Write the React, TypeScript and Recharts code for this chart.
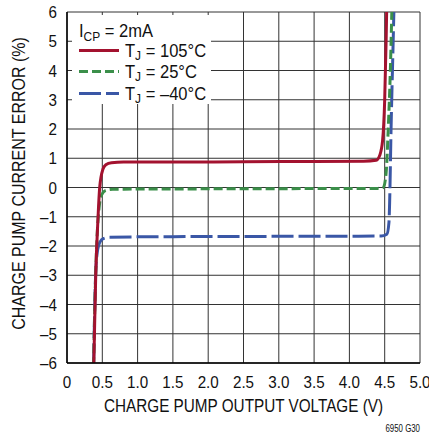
import React from "react";
import {
  LineChart,
  Line,
  XAxis,
  YAxis,
  CartesianGrid,
  Legend,
  Label,
} from "recharts";

// ---- data ----
const red105 = [
  { v: 0.37, e: -7 },
  { v: 0.38, e: -6 },
  { v: 0.407, e: -3 },
  { v: 0.44, e: -1 },
  { v: 0.463, e: 0 },
  { v: 0.51, e: 0.63 },
  { v: 0.55, e: 0.78 },
  { v: 0.63, e: 0.85 },
  { v: 0.8, e: 0.87 },
  { v: 1.5, e: 0.87 },
  { v: 2.5, e: 0.88 },
  { v: 3.5, e: 0.89 },
  { v: 4.2, e: 0.9 },
  { v: 4.38, e: 0.93 },
  { v: 4.43, e: 1.1 },
  { v: 4.47, e: 1.6 },
  { v: 4.5, e: 3 },
  { v: 4.52, e: 5 },
  { v: 4.535, e: 7 },
];

const green25 = [
  { v: 0.37, e: -7 },
  { v: 0.39, e: -4.5 },
  { v: 0.42, e: -2 },
  { v: 0.45, e: -0.8 },
  { v: 0.49, e: -0.25 },
  { v: 0.55, e: -0.1 },
  { v: 0.65, e: -0.06 },
  { v: 1.5, e: -0.05 },
  { v: 3.0, e: -0.04 },
  { v: 4.4, e: -0.03 },
  { v: 4.48, e: 0.0 },
  { v: 4.52, e: 0.5 },
  { v: 4.55, e: 2 },
  { v: 4.58, e: 4 },
  { v: 4.61, e: 7 },
];

const blueM40 = [
  { v: 0.37, e: -7 },
  { v: 0.385, e: -5 },
  { v: 0.405, e: -3 },
  { v: 0.43, e: -2.2 },
  { v: 0.47, e: -1.85 },
  { v: 0.52, e: -1.74 },
  { v: 0.6, e: -1.7 },
  { v: 1.5, e: -1.68 },
  { v: 3.0, e: -1.67 },
  { v: 4.45, e: -1.66 },
  { v: 4.53, e: -1.6 },
  { v: 4.56, e: -1.2 },
  { v: 4.57, e: -0.5 },
  { v: 4.59, e: 2 },
  { v: 4.62, e: 5 },
  { v: 4.64, e: 7 },
];

const xTicks = [0, 0.5, 1, 1.5, 2, 2.5, 3, 3.5, 4, 4.5, 5];
const xTickLabels = ["0", "0.5", "1.0", "1.5", "2.0", "2.5", "3.0", "3.5", "4.0", "4.5", "5.0"];
const yTicks = [-6, -5, -4, -3, -2, -1, 0, 1, 2, 3, 4, 5, 6];
const yTickLabels = ["–6", "–5", "–4", "–3", "–2", "–1", "0", "1", "2", "3", "4", "5", "6"];

const seriesNames = ["105°C", "25°C", "–40°C"];
const RED = "#a3122f";
const GREEN = "#3b8f4a";
const BLUE = "#3a57a6";
const INK = "#111";

const FONT = "'Liberation Sans', Arial, sans-serif";

const XTick = (p: any) => {
  const v = p.payload?.value;
  const lbl = xTickLabels[xTicks.indexOf(v)] ?? String(v);
  return (
    <text
      transform={`translate(${p.x},${p.y + 25}) scale(0.95,1)`}
      textAnchor="middle"
      fontFamily={FONT}
      fontSize={16}
      fill={INK}
    >
      {lbl}
    </text>
  );
};

const YTick = (p: any) => {
  const v = p.payload?.value;
  const lbl = yTickLabels[yTicks.indexOf(v)] ?? String(v);
  return (
    <text
      transform={`translate(${p.x - 10},${p.y + 6}) scale(0.95,1)`}
      textAnchor="end"
      fontFamily={FONT}
      fontSize={16}
      fill={INK}
    >
      {lbl}
    </text>
  );
};

const XTitle = (props: any) => {
  const vb = props.viewBox || {};
  const cx = (vb.x ?? 0) + (vb.width ?? 0) / 2;
  const by = (vb.y ?? 0) + 49;
  return (
    <text
      transform={`translate(${cx},${by}) scale(0.85,1)`}
      textAnchor="middle"
      fontFamily={FONT}
      fontSize={18}
      fill={INK}
    >
      CHARGE PUMP OUTPUT VOLTAGE (V)
    </text>
  );
};

const YTitle = (props: any) => {
  const vb = props.viewBox || {};
  const x = (vb.x ?? 0) + 24.5;
  const y = (vb.y ?? 0) + (vb.height ?? 0) / 2 - 4;
  return (
    <text
      transform={`translate(${x},${y}) rotate(-90) scale(0.89,1)`}
      textAnchor="middle"
      fontFamily={FONT}
      fontSize={18}
      fill={INK}
    >
      CHARGE PUMP CURRENT ERROR (%)
    </text>
  );
};

const LegendBox = () => {
  const rows = [
    { name: seriesNames[0], color: RED, dash: "", cy: 35.5 },
    { name: seriesNames[1], color: GREEN, dash: "9 4", cy: 56.4 },
    { name: seriesNames[2], color: BLUE, dash: "22 5", cy: 78.4 },
  ];
  return (
    <svg width={139} height={89} style={{ display: "block", overflow: "visible" }}>
      <rect x={0} y={0} width={139} height={89} fill="#fff" />
      <text transform="translate(7,22.3) scale(0.92,1)" fontFamily={FONT} fontSize={18} fill={INK}>
        I
        <tspan fontSize={13} dy={3.5}>CP</tspan>
        <tspan dy={-3.5}> = 2mA</tspan>
      </text>
      {rows.map((r, i) => (
        <g key={i}>
          <line x1={7} y1={r.cy} x2={47} y2={r.cy} stroke={r.color} strokeWidth={3} strokeDasharray={r.dash} />
          <text transform={`translate(53,${r.cy + 6.4}) scale(0.92,1)`} fontFamily={FONT} fontSize={18} fill={INK}>
            T
            <tspan fontSize={13} dy={3.5}>J</tspan>
            <tspan dy={-3.5}> = {r.name}</tspan>
          </text>
        </g>
      ))}
    </svg>
  );
};

export default function App() {
  return (
    <div style={{ position: "absolute", left: 0, top: 0, width: 429, height: 433, background: "#fff" }}>
      <LineChart width={429} height={433} margin={{ top: 12, right: 9, left: 0, bottom: 0 }}>
        <CartesianGrid stroke="#333" strokeWidth={1} />
        <XAxis
          type="number"
          dataKey="v"
          domain={[0, 5]}
          ticks={xTicks}
          allowDataOverflow
          height={70}
          tickLine={false}
          tickSize={0}
          tickMargin={0}
          axisLine={{ stroke: "#000", strokeWidth: 1.5 }}
          tick={<XTick />}
          interval={0}
        >
          <Label content={<XTitle />} />
        </XAxis>
        <YAxis
          type="number"
          dataKey="e"
          domain={[-6, 6]}
          ticks={yTicks}
          allowDataOverflow
          width={67}
          tickLine={false}
          tickSize={0}
          tickMargin={0}
          axisLine={{ stroke: "#000", strokeWidth: 1.5 }}
          tick={<YTick />}
          interval={0}
        >
          <Label content={<YTitle />} />
        </YAxis>
        <Legend
          layout="horizontal"
          align="center"
          verticalAlign="middle"
          content={<LegendBox />}
          wrapperStyle={{ left: 72, top: 15, width: 139, height: 89, margin: 0, padding: 0, overflow: "visible" }}
        />
        <Line
          data={blueM40}
          dataKey="e"
          name={seriesNames[2]}
          type="monotone"
          stroke={BLUE}
          strokeWidth={3}
          strokeDasharray="22 5"
          dot={false}
          isAnimationActive={false}
        />
        <Line
          data={green25}
          dataKey="e"
          name={seriesNames[1]}
          type="monotone"
          stroke={GREEN}
          strokeWidth={3}
          strokeDasharray="9 4"
          dot={false}
          isAnimationActive={false}
        />
        <Line
          data={red105}
          dataKey="e"
          name={seriesNames[0]}
          type="monotone"
          stroke={RED}
          strokeWidth={3}
          dot={false}
          isAnimationActive={false}
        />
      </LineChart>
      <svg width={429} height={433} style={{ position: "absolute", left: 0, top: 0, pointerEvents: "none" }}>
        <text
          transform="translate(420,431.5) scale(0.75,1)"
          textAnchor="end"
          fontFamily={FONT}
          fontSize={10.5}
          fill={INK}
        >
          6950 G30
        </text>
      </svg>
    </div>
  );
}
